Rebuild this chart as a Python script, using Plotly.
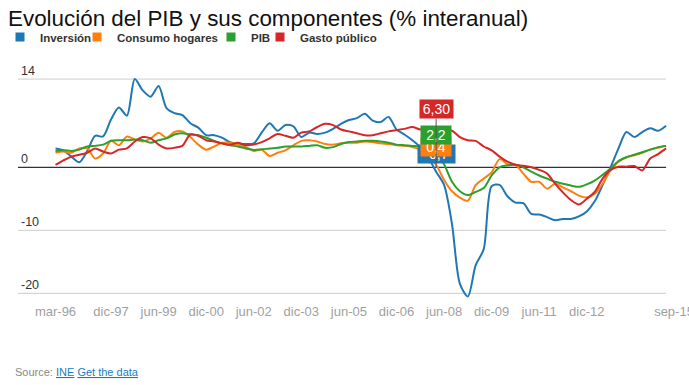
import plotly.graph_objects as go

# ---------------- data ----------------
months = ["mar", "jun", "sep", "dic"]
axis_quarters = [f"{m}-{str(y)[2:]}" for y in range(1996, 2016) for m in months]
axis_quarters = axis_quarters[: axis_quarters.index("sep-15") + 1]

inversion = [3.0, 2.7, 1.7, 0.8, 2.6, 5.0, 4.9, 7.6, 9.5, 8.2,
             14.0, 12.2, 11.2, 12.9, 9.4, 8.6, 8.3, 7.0, 6.3, 5.1,
             5.1, 4.7, 4.0, 3.7, 3.7, 3.8, 5.5, 7.0, 5.8, 6.7,
             6.5, 4.8, 5.5, 5.3, 5.5, 6.1, 6.9, 7.5, 7.8, 8.5,
             7.4, 7.2, 8.0, 6.0, 5.2, 4.3, 3.2, 1.6, -0.7, -2.8,
             -9.0, -18.5, -20.5, -15.5, -13.0, -3.0, -2.8, -4.6, -5.6, -5.7,
             -7.4, -7.5, -7.9, -8.4, -8.2, -8.2, -7.8, -7.0, -5.4, -2.8,
             0.0, 3.0, 5.6, 4.8, 5.6, 6.2, 5.8, 6.6]

consumo = [2.3, 2.5, 2.3, 3.0, 3.0, 1.4, 2.2, 4.2, 3.5, 4.9,
           4.4, 4.1, 4.6, 5.5, 4.7, 5.6, 5.7, 4.8, 3.6, 2.8,
           3.3, 3.9, 3.9, 3.6, 3.2, 2.6, 2.8, 1.8, 2.3, 2.7,
           3.5, 4.2, 4.3, 4.1, 3.7, 3.6, 3.8, 3.9, 3.9, 4.1,
           4.0, 3.8, 3.7, 3.5, 3.4, 3.2, 2.8, 1.8, 0.4, -2.0,
           -3.8, -4.8, -5.3, -2.8, -1.8, -0.8, 1.3, 0.5, 0.4, -1.0,
           -2.3, -2.3, -3.4, -2.6, -3.2, -3.8, -4.5, -4.8, -4.2, -2.6,
           -0.5, 0.9, 1.6, 1.9, 2.3, 2.8, 3.1, 3.4]

pib = [2.6, 2.7, 2.6, 2.8, 3.3, 3.4, 3.6, 4.2, 4.3, 4.3,
       4.4, 4.3, 3.9, 4.3, 4.6, 5.2, 5.4, 5.2, 5.1, 4.7,
       4.2, 3.8, 3.5, 3.3, 3.0, 2.75, 2.85, 3.0, 3.1, 3.3,
       3.3, 3.3, 3.4, 3.5, 3.1, 3.2, 3.7, 4.0, 4.1, 4.2,
       4.2, 4.1, 3.9, 3.6, 3.5, 3.4, 3.3, 2.8, 2.2, 0.5,
       -2.3, -3.8, -4.4, -3.9, -3.3, -1.3, 0.0, 0.3, 0.4, 0.0,
       -0.7, -1.3, -1.8, -2.3, -2.6, -2.9, -3.1, -2.7, -2.1, -1.2,
       -0.2, 1.0, 1.6, 2.0, 2.4, 2.8, 3.2, 3.4]

gasto = [0.4, 1.1, 1.7, 2.0, 2.3, 3.0, 2.5, 2.2, 2.8, 3.0,
         4.1, 4.8, 4.6, 3.6, 3.0, 3.1, 3.4, 5.2, 5.0, 4.3,
         4.1, 3.8, 3.6, 3.9, 3.5, 3.6, 4.0, 4.6, 5.3, 5.0,
         4.7, 5.5, 5.7, 6.4, 6.9, 6.7, 6.0, 5.7, 5.4, 5.1,
         5.1, 5.4, 5.7, 5.9, 6.1, 6.4, 6.0, 6.1, 6.3, 5.8,
         5.8, 4.8, 4.3, 4.2, 3.3, 2.7, 1.7, 0.9, 0.4, 0.25,
         0.0, -0.4, -1.0, -2.6, -4.0, -5.2, -5.9, -5.0, -3.9, -1.8,
         -0.4, 0.1, 0.1, 0.2, -0.5, 1.4, 2.1, 3.0]

series_names = ["Inversión", "Consumo hogares", "PIB", "Gasto público"]
series_values = [inversion, consumo, pib, gasto]
series_colors = ["#1f77b4", "#ff7f0e", "#2ca02c", "#d62728"]

tick_labels = ["mar-96", "dic-97", "jun-99", "dic-00", "jun-02", "dic-03", "jun-05",
               "dic-06", "jun-08", "dic-09", "jun-11", "dic-12", "sep-15"]
tick_positions = [axis_quarters.index(t) for t in tick_labels]

y_tick_vals = [14, 0, -10, -20]
y_tick_text = ["14", "0", "-10", "-20"]

hover_quarter = "mar-08"
hover_texts = {"Inversión": "-0,7", "Consumo hogares": "0,4", "PIB": "2,2", "Gasto público": "6,30"}

# ---------------- figure ----------------
FONT = "Liberation Sans, Arial, sans-serif"
W, H = 689, 385
ML, MR, MT, MB = 18, 0, 60, 85
PW, PH = W - ML - MR, H - MT - MB
x_index = list(range(len(inversion)))
x_range = [-4.73, 79.89]
y_range = [-21.06, 17.03]
last_x = x_index[-1]

fig = go.Figure()

for name, vals, col in zip(series_names, series_values, series_colors):
    fig.add_trace(go.Scatter(
        x=x_index, y=vals, mode="lines", name=name, showlegend=False,
        line=dict(color=col, width=2, shape="spline", smoothing=0.8),
        hoverinfo="skip"))

# legend entries (square swatches), one legend each for exact placement
legend_ids = ["legend", "legend2", "legend3", "legend4"]
legend_text_x = [33, 113, 247, 296]
for name, col, lid in zip(series_names, series_colors, legend_ids):
    fig.add_trace(go.Scatter(
        x=[None], y=[None], mode="markers", name=name, legend=lid,
        marker=dict(symbol="square", size=9, color=col), showlegend=True))

legend_common = dict(orientation="h", xref="container", yref="container",
                     yanchor="middle", xanchor="left", bgcolor="rgba(0,0,0,0)",
                     font=dict(family=FONT, size=11.5, color="#333", weight="bold"),
                     itemwidth=30, borderwidth=0)
layout_legends = {}
for lid, tx in zip(legend_ids, legend_text_x):
    layout_legends[lid] = dict(legend_common, x=max(tx - 36, 0) / W, y=1 - 37 / H)

shapes = []
for v in [14, -10, -20]:
    shapes.append(dict(type="line", xref="x", yref="y", x0=x_range[0], x1=last_x,
                       y0=v, y1=v, line=dict(color="#cccccc", width=1), layer="below"))
shapes.append(dict(type="line", xref="x", yref="y", x0=x_range[0], x1=last_x,
                   y0=0, y1=0, line=dict(color="#000000", width=1), layer="below"))

# hover-style value boxes
hi = axis_quarters.index(hover_quarter)
annotations = []
box_widths = {"Inversión": 33, "Consumo hogares": 26, "PIB": 26, "Gasto público": 29}
order = ["Inversión", "Consumo hogares", "PIB"]
for name in order:
    k = series_names.index(name)
    annotations.append(dict(
        x=hi, y=series_values[k][hi], xref="x", yref="y", yshift=18,
        text=hover_texts[name], showarrow=False,
        width=box_widths[name], height=14,
        font=dict(family=FONT, size=14, color="white"),
        bgcolor=series_colors[k], borderpad=2))
k = series_names.index("Gasto público")
annotations.append(dict(
    x=hi, y=0, xref="x", yref="y", ax=0, ay=-58, axref="pixel", ayref="pixel",
    text=hover_texts["Gasto público"], showarrow=True, arrowhead=0,
    arrowwidth=1, arrowcolor="#555555",
    width=box_widths["Gasto público"], height=14,
    font=dict(family=FONT, size=14, color="white"),
    bgcolor=series_colors[k], borderpad=2))

annotations.append(dict(
    xref="paper", yref="paper", x=(13 - ML) / PW, y=(H - MB - 372) / PH,
    xanchor="left", yanchor="middle", showarrow=False,
    text='Source: <span style="color:#1a7dc0"><u>INE</u></span> '
         '<span style="color:#1a7dc0"><u>Get the data</u></span>',
    font=dict(family=FONT, size=11, color="#888888")))

fig.update_layout(
    width=W, height=H, autosize=False,
    margin=dict(l=ML, r=MR, t=MT, b=MB, autoexpand=False),
    paper_bgcolor="white", plot_bgcolor="white",
    title=dict(text="Evolución del PIB y sus componentes (% interanual)",
               xref="container", yref="container", x=8 / W, y=1 - 18 / H,
               xanchor="left", yanchor="middle",
               font=dict(family=FONT, size=22.4, color="#111111")),
    xaxis=dict(range=x_range, tickvals=tick_positions, ticktext=tick_labels,
               showgrid=False, zeroline=False, showline=False, ticks="",
               ticklabeloverflow="allow", automargin=False, ticklabelstandoff=2,
               tickfont=dict(family=FONT, size=13, color="#a0a0a0")),
    yaxis=dict(range=y_range, tickvals=y_tick_vals, ticktext=y_tick_text,
               showgrid=False, zeroline=False, showline=False, ticks="",
               ticklabelposition="inside top", automargin=False,
               tickfont=dict(family=FONT, size=12.5, color="#333333")),
    shapes=shapes, annotations=annotations,
    **layout_legends,
)

fig.write_html("out.html", config={"displayModeBar": False},
               post_script="document.body.style.margin='0';")
